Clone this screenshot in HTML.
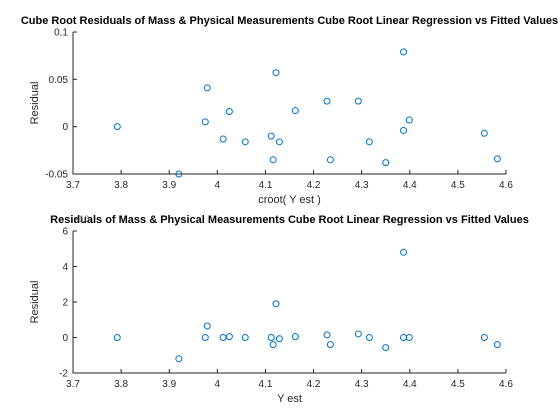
<!DOCTYPE html>
<html><head><meta charset="utf-8"><style>
body{margin:0;background:#fff;}
svg{display:block;font-family:"Liberation Sans",sans-serif;}
</style></head><body>
<svg id="c" width="560" height="420"></svg>
<script>
const xVals=[3.792,3.92,3.975,3.979,4.012,4.025,4.058,4.112,4.116,4.122,4.129,4.162,4.228,4.235,4.293,4.316,4.35,4.387,4.387,4.399,4.555,4.582];
const topResid=[0,-0.05,0.005,0.041,-0.013,0.016,-0.016,-0.010,-0.035,0.057,-0.016,0.017,0.027,-0.035,0.027,-0.016,-0.038,0.079,-0.004,0.007,-0.007,-0.034];
const botResid=[0,-1.2,0,0.65,0,0.05,0,0,-0.4,1.9,-0.07,0.05,0.15,-0.4,0.2,0,-0.57,4.8,0,0,0,-0.4];
const xTicks=[3.7,3.8,3.9,4,4.1,4.2,4.3,4.4,4.5,4.6];
const topYTicks=[-0.05,0,0.05,0.1];
const topYLabels=["-0.05","0","0.05","0.1"];
const botYTicks=[-2,0,2,4,6];
const botYLabels=["-2","0","2","4","6"];
const NS="http://www.w3.org/2000/svg";
const svg=document.getElementById('c');
function mk(t,a,txt){const e=document.createElementNS(NS,t);for(const k in a)e.setAttribute(k,a[k]);if(txt!==undefined)e.textContent=txt;svg.appendChild(e);return e;}
function panel(p){
  const L=73,R=506,T=p.top,B=p.bot;
  const sx=v=>L+(v-3.7)/(0.9)*(R-L);
  const sy=v=>B-(v-p.ymin)/(p.ymax-p.ymin)*(B-T);
  let e=mk('text',{x:289.5,y:T-8,'text-anchor':'middle','font-size':'11','font-weight':'bold',fill:'#000'},p.title);
  
  
  e=mk('path',{d:`M${L},${T}V${B}H${R}`,stroke:'#262626','stroke-width':'1',fill:'none'});
  
  
  xTicks.forEach(v=>{const x=sx(v);
    mk('line',{x1:x,x2:x,y1:B,y2:B-4,stroke:'#262626'});
    e=mk('text',{x:x,y:B+14,'text-anchor':'middle','font-size':'10',fill:'#262626'},String(v));
    
    });
  p.yt.forEach((v,i)=>{const y=sy(v);
    mk('line',{x1:L,x2:L+4,y1:y,y2:y,stroke:'#262626'});
    e=mk('text',{x:L-5,y:y+3.5,'text-anchor':'end','font-size':'10',fill:'#262626'},p.yl[i]);
    
    });
  e=mk('text',{x:289.5,y:B+29,'text-anchor':'middle','font-size':'11',fill:'#262626'},p.xlab);
  
  
  e=mk('text',{x:0,y:0,'text-anchor':'middle','font-size':'11',fill:'#262626',transform:`translate(${L-35},${(T+B)/2}) rotate(-90)`},'Residual');
  
  
  if(p.exp){e=mk('text',{x:L+1,y:T-9,'font-size':'9',fill:'#555'},'×10');
    
    }
  xVals.forEach((xv,i)=>{e=mk('circle',{cx:sx(xv),cy:sy(p.data[i]),r:3,fill:'none',stroke:'#0072BD','stroke-width':'1'});
    
    });
}
panel({id:'top',top:32,bot:174,ymin:-0.05,ymax:0.1,yt:topYTicks,yl:topYLabels,data:topResid,xlab:'croot( Y est )',title:'Cube Root Residuals of Mass & Physical Measurements Cube Root Linear Regression vs Fitted Values'});
panel({id:'bottom',top:231,bot:373,ymin:-2,ymax:6,yt:botYTicks,yl:botYLabels,data:botResid,xlab:'Y est',exp:true,title:'Residuals of Mass & Physical Measurements Cube Root Linear Regression vs Fitted Values'});
</script>
</body></html>
